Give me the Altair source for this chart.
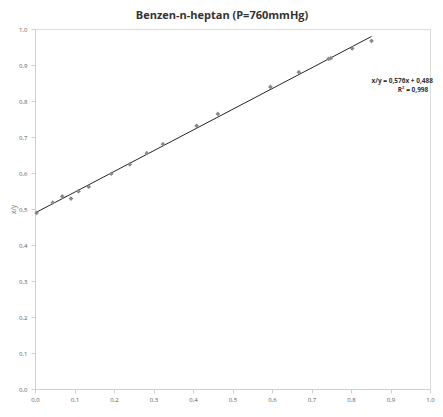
import altair as alt
import pandas as pd

x_vals = [0.004, 0.045, 0.069, 0.091, 0.110, 0.136, 0.193, 0.240, 0.283, 0.324,
          0.409, 0.463, 0.596, 0.668, 0.743, 0.749, 0.803, 0.852]
y_vals = [0.489, 0.518, 0.535, 0.529, 0.549, 0.562, 0.598, 0.624, 0.655, 0.680,
          0.731, 0.764, 0.839, 0.880, 0.917, 0.919, 0.946, 0.967]

title_text = "Benzen-n-heptan (P=760mmHg)"
eq_lines = ["x/y = 0,576x + 0,488", "R² = 0,998"]
tick_vals = [0.0, 0.1, 0.2, 0.3, 0.4, 0.5, 0.6, 0.7, 0.8, 0.9, 1.0]

df = pd.DataFrame({"x": x_vals, "y": y_vals})

FONT = "Open Sans"
lab = "replace(format(datum.value, '.1f'), '.', ',')"

W, H = 395, 360

xs = alt.Scale(domain=[0, 1], nice=False, zero=False)
ys = alt.Scale(domain=[0, 1], nice=False, zero=False)

xax = alt.Axis(values=tick_vals, tickCount=20, labelExpr=lab, grid=False,
               title=None, labelFontSize=6, labelColor="#595959", labelFont=FONT,
               domainColor="#d0d0d0", tickColor="#d0d0d0", tickSize=4, labelPadding=3,
               labelOverlap=False, labelBound=False, labelFlush=False)
yax = alt.Axis(values=tick_vals, tickCount=20, labelExpr=lab, grid=False,
               title="x/y", titleFontSize=6.5, titleFont=FONT, titleFontWeight="normal",
               titleColor="#595959", titlePadding=2,
               labelFontSize=6, labelColor="#595959", labelFont=FONT,
               domainColor="#d0d0d0", tickColor="#d0d0d0", tickSize=4, labelPadding=4,
               labelOverlap=False, labelBound=False, labelFlush=False)

base = alt.Chart(df)

pts = base.mark_point(shape="diamond", filled=True, color="#8a8a8a", size=22, opacity=1).encode(
    x=alt.X("x:Q", scale=xs, axis=xax),
    y=alt.Y("y:Q", scale=ys, axis=yax),
)

trend = base.transform_regression("x", "y", extent=[0, 0.852]).mark_line(
    color="#262626", strokeWidth=1
).encode(x=alt.X("x:Q", scale=xs), y=alt.Y("y:Q", scale=ys))

title = alt.Chart(pd.DataFrame({"t": [title_text]})).mark_text(
    font=FONT, fontSize=11, fontWeight="bold", color="#333333", align="center", baseline="middle"
).encode(x=alt.value(187), y=alt.value(-13), text="t:N")

eq1 = alt.Chart(pd.DataFrame({"t": [eq_lines[0]]})).mark_text(
    font=FONT, fontSize=6.5, fontWeight="bold", color="#333333", align="right", baseline="middle"
).encode(x=alt.value(398), y=alt.value(52), text="t:N")
eq2 = alt.Chart(pd.DataFrame({"t": [eq_lines[1]]})).mark_text(
    font=FONT, fontSize=6.5, fontWeight="bold", color="#333333", align="center", baseline="middle"
).encode(x=alt.value(378), y=alt.value(61), text="t:N")

chart = alt.layer(trend, pts, title, eq1, eq2).properties(
    width=W, height=H,
    autosize=alt.AutoSizeParams(type="none"),
    padding={"left": 27, "top": 21, "right": 5, "bottom": 13},
).configure_view(stroke=None).configure(background="white").configure_axis(labelOverlap=False)

chart.save("out.html", embed_options={"renderer": "svg", "actions": False})
